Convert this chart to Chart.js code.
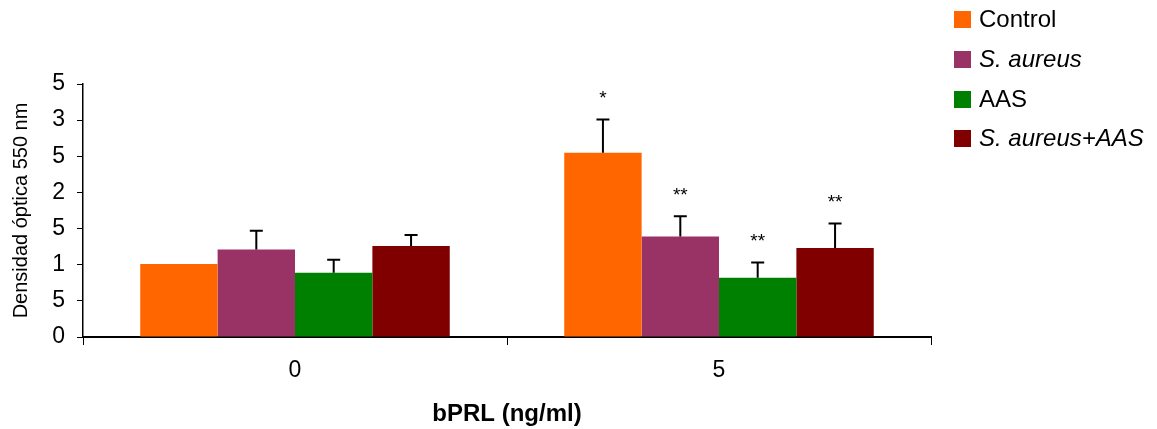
<!DOCTYPE html>
<html><head><meta charset="utf-8">
<script src="https://cdn.jsdelivr.net/npm/chart.js@4.4.1/dist/chart.umd.min.js"></script>
<style>
html,body{margin:0;padding:0;background:#fff;}
#wrap{position:relative;width:1157px;height:429px;}
#c{position:absolute;left:0;top:0;}
#legend{position:absolute;left:954px;top:0;font-family:"Liberation Sans",Arial,sans-serif;font-size:24px;color:#000;}
.item{position:absolute;left:0;white-space:nowrap;display:flex;align-items:center;height:30px;line-height:30px;}
.sw{width:17px;height:17px;margin-right:8px;flex:none;}
</style></head>
<body><div id="wrap"><canvas id="c" width="1157" height="429" style="width:1157px;height:429px"></canvas><div id="legend"></div></div>
<script>
// ---- data ----
const categories = ['0', '5'];
const seriesNames = ['Control', 'S. aureus', 'AAS', 'S. aureus+AAS'];
const seriesItalic = [false, true, false, true];
const seriesColors = ['#FF6600', '#993366', '#008000', '#800000'];
const control = [1.01, 2.55];
const sAureus = [1.21, 1.39];
const aas = [0.89, 0.82];
const sAureusAas = [1.26, 1.23];
const controlErr = [0, 0.46];
const sAureusErr = [0.26, 0.28];
const aasErr = [0.18, 0.21];
const sAureusAasErr = [0.15, 0.34];
const controlSig = ['', '*'];
const sAureusSig = ['', '**'];
const aasSig = ['', '**'];
const sAureusAasSig = ['', '**'];
const yTickLabels = ['0', '5', '1', '5', '2', '5', '3', '5'];
const yTitle = 'Densidad óptica 550 nm';
const xTitle = 'bPRL (ng/ml)';

const values = [control, sAureus, aas, sAureusAas];
const errors = [controlErr, sAureusErr, aasErr, sAureusAasErr];
const sigs = [controlSig, sAureusSig, aasSig, sAureusAasSig];

const FONT = "'Liberation Sans', Arial, sans-serif";
Chart.defaults.font.family = FONT;
Chart.defaults.color = '#000';

// HTML legend
const legendEl = document.getElementById('legend');
const legendCenters = [19, 59, 99, 138];
seriesNames.forEach((n, i) => {
  const d = document.createElement('div');
  d.className = 'item';
  d.style.top = (legendCenters[i] - 15) + 'px';
  const sw = document.createElement('span');
  sw.className = 'sw';
  sw.style.background = seriesColors[i];
  const t = document.createElement('span');
  t.textContent = n;
  if (seriesItalic[i]) t.style.fontStyle = 'italic';
  d.appendChild(sw); d.appendChild(t);
  legendEl.appendChild(d);
});

const errorBarPlugin = {
  id: 'errbars',
  afterDatasetsDraw(chart) {
    const ctx = chart.ctx;
    const ys = chart.scales.y;
    ctx.save();
    chart.data.datasets.forEach((ds, i) => {
      const meta = chart.getDatasetMeta(i);
      meta.data.forEach((el, j) => {
        const err = errors[i][j];
        let topPix = el.y;
        if (err > 0) {
          topPix = ys.getPixelForValue(values[i][j] + err);
          ctx.strokeStyle = '#000';
          ctx.lineWidth = 2;
          ctx.beginPath();
          ctx.moveTo(el.x, el.y);
          ctx.lineTo(el.x, topPix);
          ctx.moveTo(el.x - 6.5, topPix);
          ctx.lineTo(el.x + 6.5, topPix);
          ctx.stroke();
        }
        const s = sigs[i][j];
        if (s) {
          ctx.fillStyle = '#000';
          ctx.font = '19px ' + FONT;
          ctx.textAlign = 'center';
          ctx.textBaseline = 'middle';
          ctx.fillText(s, el.x, topPix - 21);
        }
      });
    });
    ctx.restore();
  }
};

new Chart(document.getElementById('c'), {
  type: 'bar',
  data: {
    labels: categories,
    datasets: seriesNames.map((n, i) => ({
      label: n,
      data: values[i],
      backgroundColor: seriesColors[i],
      borderWidth: 0,
      categoryPercentage: 0.73,
      barPercentage: 1.0
    }))
  },
  options: {
    responsive: false,
    animation: false,
    layout: { padding: { left: 0, right: 226, top: 84, bottom: 0 } },
    plugins: { legend: { display: false }, tooltip: { enabled: false } },
    scales: {
      x: {
        grid: { display: true, drawOnChartArea: false, drawTicks: true, tickLength: 8, color: '#000', lineWidth: 1, offset: true },
        border: { display: true, color: '#000', width: 2 },
        ticks: { font: { size: 23 }, color: '#000', padding: 12 },
        title: { display: true, text: xTitle, font: { size: 24, weight: 'bold' }, color: '#000', padding: { top: 8, bottom: 0 } },
        afterFit(scale) { scale.height = 92; }
      },
      y: {
        min: 0, max: 3.5,
        grid: { display: true, drawOnChartArea: false, drawTicks: true, tickLength: 6, color: '#000', lineWidth: 1 },
        border: { display: true, color: '#000', width: 1.5 },
        ticks: {
          stepSize: 0.5, font: { size: 23 }, color: '#000', padding: 12,
          callback: (v, idx) => yTickLabels[idx]
        },
        title: { display: true, text: yTitle, font: { size: 20 }, color: '#000', padding: { top: 9, bottom: 0 } },
        afterFit(scale) { scale.width = 83; }
      }
    }
  },
  plugins: [errorBarPlugin]
});
</script>
</body></html>
